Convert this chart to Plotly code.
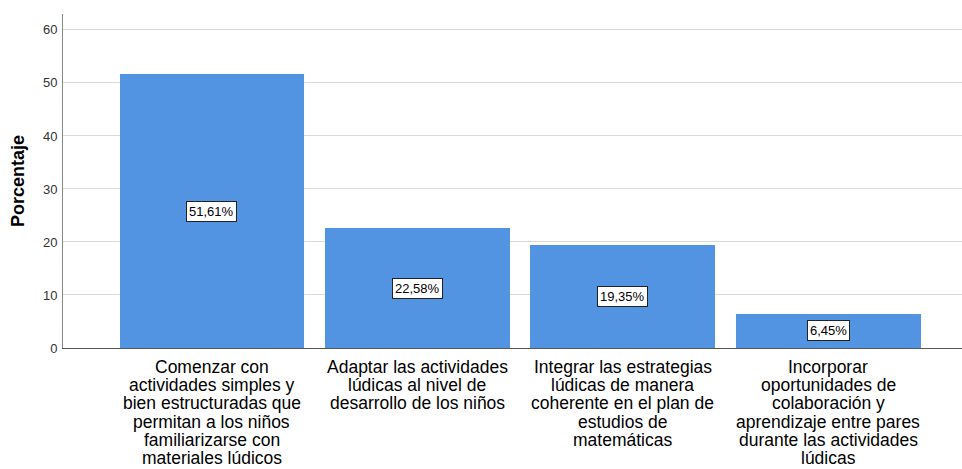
import plotly.graph_objects as go

categories = [
    "Comenzar con<br>actividades simples y<br>bien estructuradas que<br>permitan a los niños<br>familiarizarse con<br>materiales lúdicos",
    "Adaptar las actividades<br>lúdicas al nivel de<br>desarrollo de los niños",
    "Integrar las estrategias<br>lúdicas de manera<br>coherente en el plan de<br>estudios de<br>matemáticas",
    "Incorporar<br>oportunidades de<br>colaboración y<br>aprendizaje entre pares<br>durante las actividades<br>lúdicas",
]
values = [51.61, 22.58, 19.35, 6.45]
labels = ["51,61%", "22,58%", "19,35%", "6,45%"]
y_ticks = [0, 10, 20, 30, 40, 50, 60]

xs = list(range(len(categories)))
FONT = "Arial, Liberation Sans, sans-serif"

fig = go.Figure()
fig.add_trace(go.Bar(
    x=xs, y=values, width=0.9,
    marker=dict(color="#5294e2", line=dict(width=0)),
    hoverinfo="skip",
))

for x, v, t in zip(xs, values, labels):
    fig.add_annotation(
        x=x, y=v / 2, text=t, showarrow=False,
        font=dict(family=FONT, size=13, color="#000000"),
        bgcolor="#ffffff", bordercolor="#222222", borderwidth=1, borderpad=2,
    )

# category labels, one annotation per line for tight SPSS-like spacing
LINE_H = 18.2
for x, cat in zip(xs, categories):
    for i, line in enumerate(cat.split("<br>")):
        fig.add_annotation(
            x=x, xref="x", y=0, yref="paper", text=line, showarrow=False,
            yanchor="middle", xanchor="center", yshift=-(19 + i * LINE_H),
            font=dict(family=FONT, size=17.5, color="#000000"),
        )

fig.update_layout(
    width=962, height=469,
    margin=dict(l=63, r=0, t=14, b=121),
    paper_bgcolor="#ffffff", plot_bgcolor="#ffffff",
    showlegend=False,
    font=dict(family=FONT, color="#000000"),
    bargap=0,
)
fig.update_xaxes(
    range=[-0.725, 3.65],
    tickvals=xs, showticklabels=False,
    showgrid=False, zeroline=False,
    showline=True, linecolor="#555555", linewidth=1,
    ticks="", automargin=False,
)
fig.update_yaxes(
    range=[0, 63],
    tickvals=y_ticks,
    tickfont=dict(size=13, color="#333333"),
    showgrid=True, gridcolor="#d9d9d9", gridwidth=1,
    zeroline=False,
    showline=True, linecolor="#888888", linewidth=1,
    ticks="", automargin=False, ticklabelstandoff=2,
    title=dict(text="<b>Porcentaje</b>", font=dict(size=18, color="#000000"), standoff=13),
)

fig.write_html(
    "out.html",
    config={"displayModeBar": False, "staticPlot": True},
    post_script="document.body.style.margin='0';document.body.style.overflow='hidden';",
)
